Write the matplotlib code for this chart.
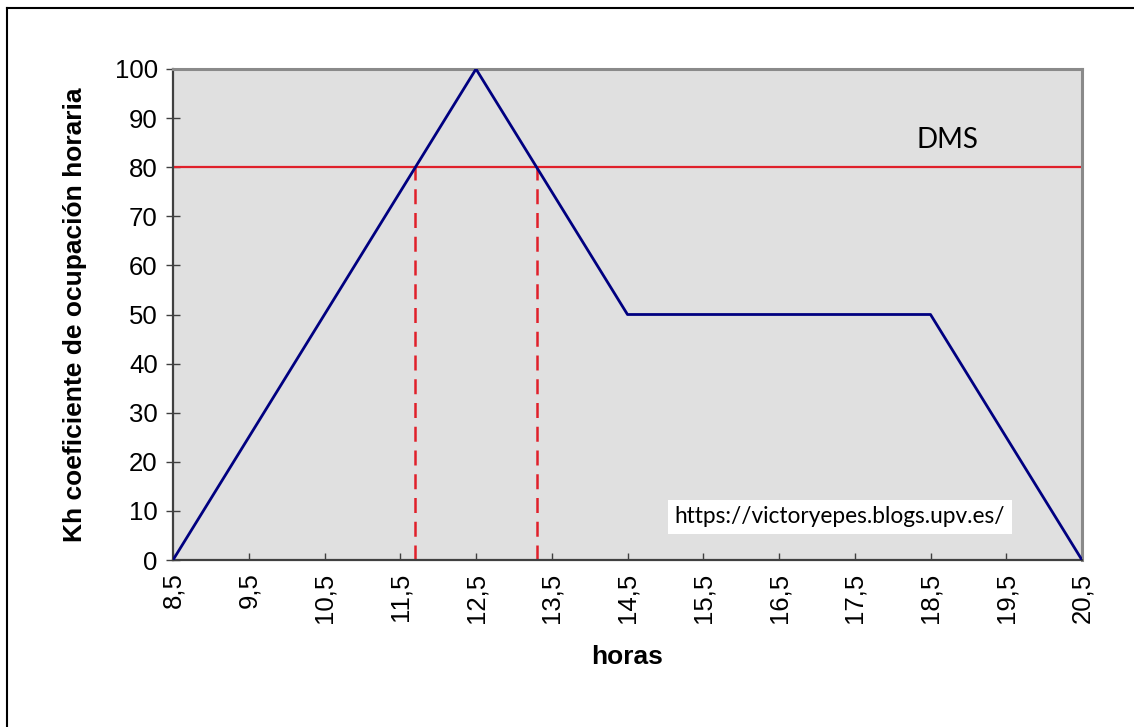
import numpy as np
import matplotlib.pyplot as plt
from matplotlib.lines import Line2D

# datos
horas = [8.5, 12.5, 14.5, 18.5, 20.5]
kh = [0, 100, 50, 50, 0]
dms = 80
x_cortes = [8.5 + dms / 25.0, 12.5 + (100 - dms) / 25.0]
ticks_x = [8.5 + i for i in range(13)]
etiquetas_x = [("%.1f" % t).replace(".", ",") for t in ticks_x]
ticks_y = list(range(0, 101, 10))

fig = plt.figure(figsize=(11.34, 7.27), dpi=100)
ax = fig.add_axes([173/1134, 1 - 560/727, 909/1134, 491/727])
ax.set_facecolor("#e0e0e0")

ax.plot(horas, kh, color="#000080", lw=2.0, zorder=3)
ax.axhline(dms, color="#e0202a", lw=1.6, zorder=2)
for xc in x_cortes:
    ax.plot([xc, xc], [0, dms], color="#e0202a", lw=1.8, ls=(0, (6, 3.5)), zorder=2)

ax.set_xlim(8.5, 20.5)
ax.set_ylim(0, 100)
ax.set_xticks(ticks_x)
ax.set_xticklabels(etiquetas_x, rotation=90, fontsize=18.5, family="Liberation Sans")
ax.set_yticks(ticks_y)
ax.set_yticklabels([str(t) for t in ticks_y], fontsize=18.5, family="Liberation Sans")
ax.tick_params(axis="y", direction="inout", length=10, width=1, color="#404040", pad=6)
ax.tick_params(axis="x", direction="in", length=5, width=1, color="#404040", pad=9)

for s in ["left", "bottom"]:
    ax.spines[s].set_color("#404040")
    ax.spines[s].set_linewidth(1.6)
for s in ["top", "right"]:
    ax.spines[s].set_color("#8a8a8a")
    ax.spines[s].set_linewidth(2.2)

ax.set_xlabel("horas", fontsize=19, fontweight="bold", family="Liberation Sans", labelpad=16)
ax.set_ylabel("Kh coeficiente de ocupación horaria", fontsize=19, fontweight="bold",
              family="Liberation Sans", labelpad=20)

ax.text(18.72, 85.5, "DMS", fontsize=20, family="Lato", ha="center", va="center")
ax.text(17.30, 8.8, "https://victoryepes.blogs.upv.es/", fontsize=16.3, family="Lato",
        ha="center", va="center",
        bbox=dict(facecolor="white", edgecolor="none", boxstyle="square,pad=0.3"))

# marco de la figura
fig.add_artist(Line2D([7/1134, 7/1134], [0, 1 - 8/727], color="black", lw=1.5))
fig.add_artist(Line2D([7/1134, 1], [1 - 8/727, 1 - 8/727], color="black", lw=1.5))

plt.savefig("out.png", dpi=100)
